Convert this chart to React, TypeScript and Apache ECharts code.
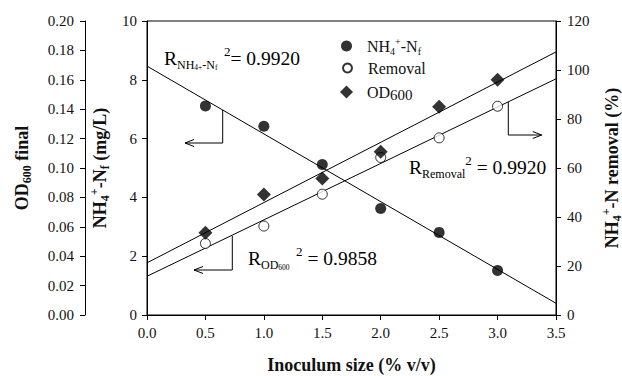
import React, { useEffect, useRef } from "react";
import * as echarts from "echarts";

const inoculum = [0.5, 1.0, 1.5, 2.0, 2.5, 3.0];
const nh4Final = [7.11, 6.42, 5.12, 3.62, 2.81, 1.51];
const removalPct = [29.2, 36.3, 49.3, 64.3, 72.3, 85.2];
const od600 = [0.0559, 0.082, 0.0929, 0.111, 0.1416, 0.16];

const xRange = [0, 3.5];
const r2Labels = { nh4: "0.9920", removal: "0.9920", od: "0.9858" };

const FONT = "'Liberation Serif', 'Times New Roman', 'DejaVu Serif', serif";

function fit(xs: number[], ys: number[]) {
  const n = xs.length;
  const mx = xs.reduce((a, b) => a + b, 0) / n;
  const my = ys.reduce((a, b) => a + b, 0) / n;
  let sxy = 0, sxx = 0;
  for (let i = 0; i < n; i++) {
    sxy += (xs[i] - mx) * (ys[i] - my);
    sxx += (xs[i] - mx) ** 2;
  }
  const b = sxy / sxx;
  const a = my - b * mx;
  return xRange.map((x) => [x, a + b * x]);
}

const pairs = (ys: number[]) => inoculum.map((x, i) => [x, ys[i]]);

export default function App() {
  const ref = useRef<HTMLDivElement>(null);
  useEffect(() => {
    if (!ref.current) return;
    const chart = echarts.init(ref.current, null, { renderer: "svg" });
    const tickLabel = { fontFamily: FONT, fontSize: 15, color: "#111" };
    const line = { lineStyle: { color: "#000", width: 1 } };
    const tick = { show: true, inside: false, length: 5, lineStyle: { color: "#000", width: 1 } };
    const titleRich = {
      b: { fontFamily: FONT, fontSize: 18, fontWeight: "bold", color: "#111", lineHeight: 23 },
      s: { fontFamily: FONT, fontSize: 12, fontWeight: "bold", color: "#111", verticalAlign: "bottom", lineHeight: 19 },
      p: { fontFamily: FONT, fontSize: 12, fontWeight: "bold", color: "#111", verticalAlign: "top", lineHeight: 19 },
    };
    const legendRich = {
      t: { fontFamily: FONT, fontSize: 16, color: "#111", lineHeight: 20 },
      s: { fontFamily: FONT, fontSize: 10, color: "#111", verticalAlign: "bottom", lineHeight: 16 },
      p: { fontFamily: FONT, fontSize: 10, color: "#111", verticalAlign: "top", lineHeight: 16 },
      o: { fontFamily: FONT, fontSize: 15, color: "#111", verticalAlign: "bottom", lineHeight: 17 },
    };
    const legendNames: Record<string, string> = {
      nh4: "{t|NH}{s|4}{p|+}{t|-N}{s|f}",
      removal: "{t|Removal}",
      od: "{t|OD}{o|600}",
    };
    const mkLegend = (name: string, top: number, size: number, left: number) => ({
      data: [name],
      orient: "vertical",
      left,
      top,
      itemWidth: size,
      itemHeight: size,
      selectedMode: false,
      formatter: (n: string) => legendNames[n],
      textStyle: { rich: legendRich, padding: [0, 0, 0, 367 - left - size - 5 - 5] },
    });
    const annRich = {
      r: { fontFamily: FONT, fontSize: 19.5, color: "#111", lineHeight: 26 },
      s: { fontFamily: FONT, fontSize: 12, color: "#111", verticalAlign: "bottom", lineHeight: 19 },
      ss: { fontFamily: FONT, fontSize: 7.5, color: "#111", verticalAlign: "bottom", lineHeight: 15 },
      p: { fontFamily: FONT, fontSize: 13, color: "#111", verticalAlign: "top", lineHeight: 22 },
    };
    const arrow = (pts: number[][], dir: number) => {
      const end = pts[pts.length - 1];
      return [
        { type: "polyline", shape: { points: pts }, style: { stroke: "#000", lineWidth: 1, fill: null } },
        {
          type: "polyline",
          shape: { points: [[end[0] - dir * 9, end[1] - 3.5], end, [end[0] - dir * 9, end[1] + 3.5]] },
          style: { stroke: "#000", lineWidth: 1, fill: null },
        },
      ];
    };
    chart.setOption({
      animation: false,
      grid: {
        left: 147,
        right: 66,
        top: 21,
        bottom: 61,
        show: true,
        borderColor: "#000",
        borderWidth: 1,
        containLabel: false,
        outerBoundsMode: "none",
      },
      xAxis: {
        type: "value",
        min: 0,
        max: 3.5,
        interval: 0.5,
        axisLine: line,
        axisTick: tick,
        splitLine: { show: false },
        axisLabel: { ...tickLabel, margin: 10, formatter: (v: number) => v.toFixed(1) },
        name: "Inoculum size (% v/v)",
        nameLocation: "middle",
        nameGap: 41,
        nameTextStyle: { fontFamily: FONT, fontSize: 18, fontWeight: "bold", color: "#111" },
      },
      yAxis: [
        {
          type: "value",
          min: 0,
          max: 10,
          interval: 2,
          position: "left",
          axisLine: { show: true, ...line },
          axisTick: tick,
          splitLine: { show: false },
          axisLabel: { ...tickLabel, margin: 10 },
          name: "{b|NH}{s|4}{p|+}{b|-N}{s|f}{b| (mg/L)}",
          nameLocation: "middle",
          nameRotate: 90,
          nameGap: 17,
          nameTextStyle: { rich: titleRich },
        },
        {
          type: "value",
          min: 0,
          max: 0.2,
          interval: 0.02,
          position: "left",
          offset: 62,
          axisLine: { show: true, ...line },
          axisTick: tick,
          splitLine: { show: false },
          axisLabel: { ...tickLabel, margin: 11, formatter: (v: number) => v.toFixed(2) },
          name: "{b|OD}{s|600}{b| final}",
          nameLocation: "middle",
          nameRotate: 90,
          nameGap: 52,
          nameTextStyle: { rich: titleRich },
        },
        {
          type: "value",
          min: 0,
          max: 120,
          interval: 20,
          position: "right",
          axisLine: { show: true, ...line },
          axisTick: tick,
          splitLine: { show: false },
          axisLabel: { ...tickLabel, margin: 11 },
          name: "{b|NH}{s|4}{p|+}{b|-N removal (%)}",
          nameLocation: "middle",
          nameRotate: 90,
          nameGap: 35,
          nameTextStyle: { rich: titleRich },
        },
      ],
      legend: [mkLegend("nh4", 31, 11, 336), mkLegend("removal", 55, 9, 337), mkLegend("od", 79, 13, 335)],
      series: [
        { type: "line", yAxisIndex: 0, data: fit(inoculum, nh4Final), symbol: "none", lineStyle: { color: "#000", width: 1 }, z: 1 },
        { type: "line", yAxisIndex: 2, data: fit(inoculum, removalPct), symbol: "none", lineStyle: { color: "#000", width: 1 }, z: 1 },
        { type: "line", yAxisIndex: 1, data: fit(inoculum, od600), symbol: "none", lineStyle: { color: "#000", width: 1 }, z: 1 },
        {
          name: "nh4",
          type: "scatter",
          yAxisIndex: 0,
          data: pairs(nh4Final),
          symbol: "circle",
          symbolSize: 11,
          itemStyle: { color: "#000" },
          z: 3,
        },
        {
          name: "removal",
          type: "scatter",
          yAxisIndex: 2,
          data: pairs(removalPct),
          symbol: "circle",
          symbolSize: 10,
          itemStyle: { color: "#fff", borderColor: "#000", borderWidth: 1 },
          z: 3,
        },
        {
          name: "od",
          type: "scatter",
          yAxisIndex: 1,
          data: pairs(od600),
          symbol: "diamond",
          symbolSize: 14,
          itemStyle: { color: "#000" },
          z: 3,
        },
      ],
      graphic: [
        {
          type: "text",
          x: 164,
          y: 58,
          style: { text: `{r|R}{s|NH}{ss|4+}{s|-N}{ss|f}{p|  2}{r|= ${r2Labels.nh4}}`, rich: annRich, verticalAlign: "middle" },
        },
        {
          type: "text",
          x: 409,
          y: 167,
          style: { text: `{r|R}{s|Removal}{p|2}{r| = ${r2Labels.removal}}`, rich: annRich, verticalAlign: "middle" },
        },
        {
          type: "text",
          x: 248,
          y: 258,
          style: { text: `{r|R}{s|OD}{ss|600}{p|  2}{r| = ${r2Labels.od}}`, rich: annRich, verticalAlign: "middle" },
        },
        ...arrow([[222.7, 110], [222.7, 143], [185, 143]], -1),
        ...arrow([[508.3, 102], [508.3, 135], [541.7, 135]], 1),
        ...arrow([[232.3, 236], [232.3, 270], [194, 270]], -1),
      ],
    });
    return () => chart.dispose();
  }, []);
  return <div ref={ref} style={{ position: "fixed", left: 0, top: 0, width: 622, height: 376, background: "#fff" }} />;
}
